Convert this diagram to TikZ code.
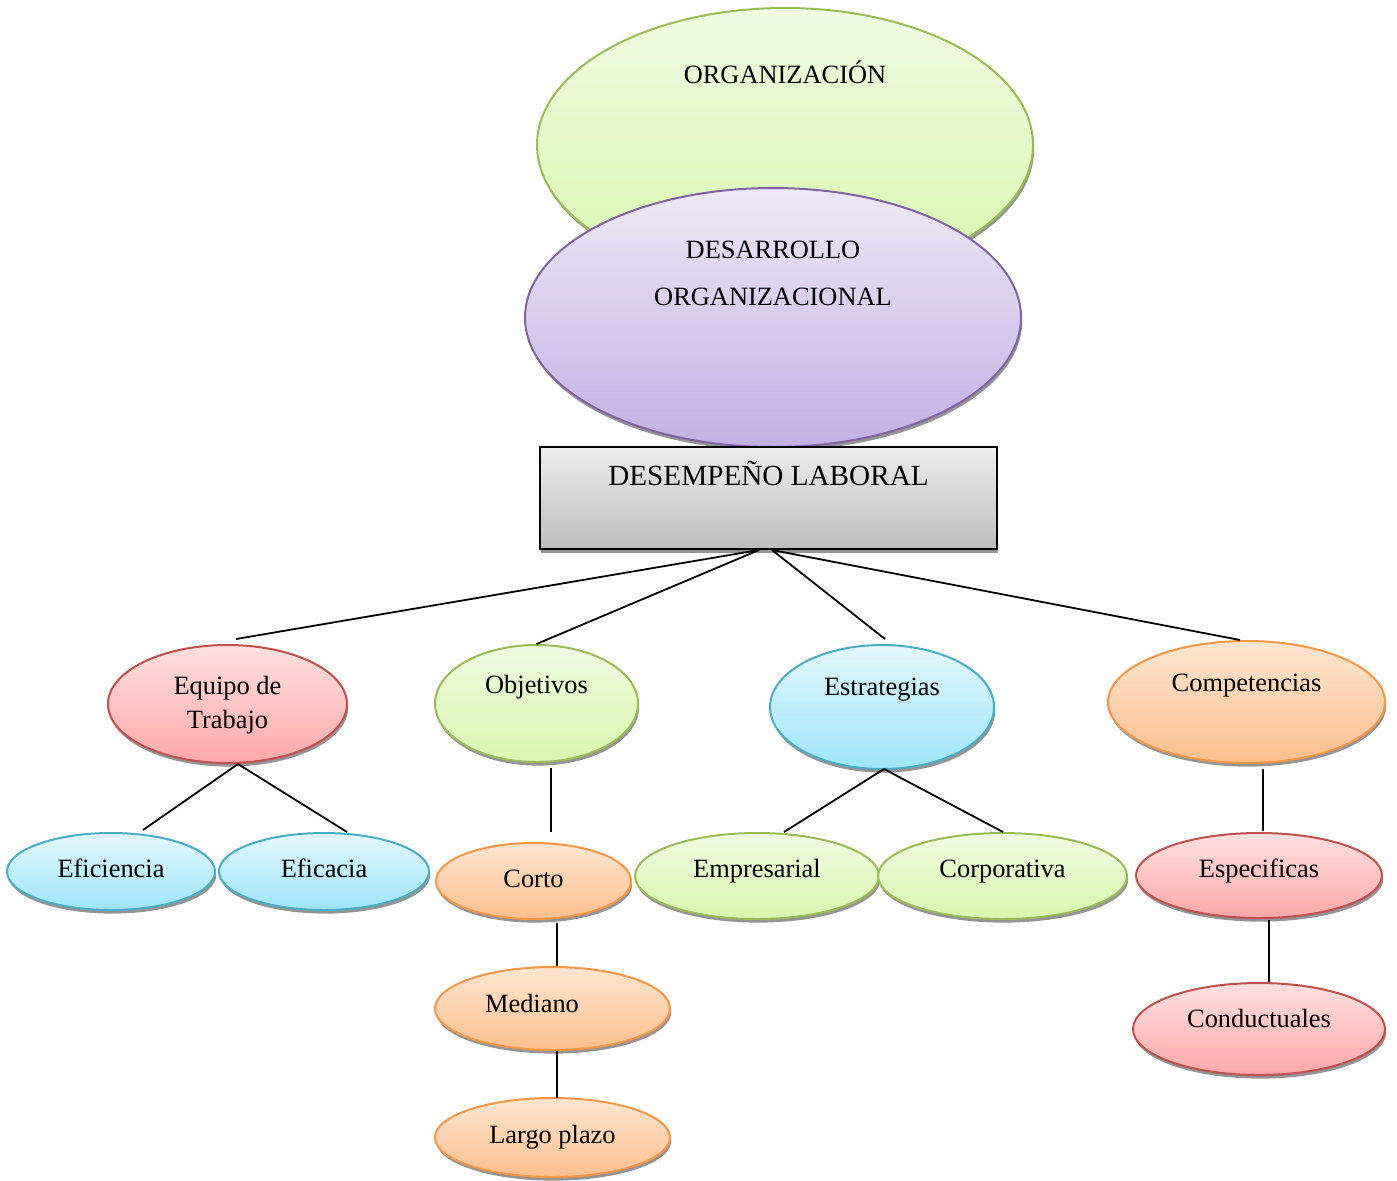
\documentclass[tikz,border=0pt]{standalone}
\usepackage{fontspec}
\setmainfont{Liberation Serif}
\usetikzlibrary{shapes.geometric,shadows,calc}

% palette
\definecolor{gtop}{HTML}{F0FBE2}\definecolor{gbot}{HTML}{D8F7AE}\definecolor{gline}{HTML}{9BBB59}
\definecolor{ptop}{HTML}{EFE8F8}\definecolor{pbot}{HTML}{C3B0E3}\definecolor{pline}{HTML}{8064A2}
\definecolor{rtop}{HTML}{FFE0E0}\definecolor{rbot}{HTML}{FFA8A8}\definecolor{rline}{HTML}{C0504D}
\definecolor{btop}{HTML}{E4F8FE}\definecolor{bbot}{HTML}{9EE5FA}\definecolor{bline}{HTML}{4BACC6}
\definecolor{otop}{HTML}{FEE6D2}\definecolor{obot}{HTML}{FCBF8C}\definecolor{oline}{HTML}{F79646}
\definecolor{ktop}{HTML}{EDEDED}\definecolor{kbot}{HTML}{BDBDBD}

\tikzset{
  bub/.style={ellipse, inner sep=0pt, line width=1pt,
    drop shadow={shadow xshift=0.6pt, shadow yshift=-1.8pt, fill=black!42, opacity=1}},
  greenbub/.style={bub, draw=gline, top color=gtop, bottom color=gbot},
  purplebub/.style={bub, draw=pline, top color=ptop, bottom color=pbot},
  redbub/.style={bub, draw=rline, top color=rtop, bottom color=rbot},
  bluebub/.style={bub, draw=bline, top color=btop, bottom color=bbot},
  orangebub/.style={bub, draw=oline, top color=otop, bottom color=obot},
  lbl/.style={anchor=base, inner sep=0pt, font=\fontsize{13.2}{15}\selectfont},
  conn/.style={line width=0.9pt, draw=black},
}

\begin{document}
\begin{tikzpicture}[x=0.5pt, y=-0.5pt]
  \path[fill=white, use as bounding box] (0,0) rectangle (1397,1180);

  % top of the hierarchy
  \node[greenbub, minimum width=248pt, minimum height=137pt] (org) at (785,145) {};
  \node[lbl] (org-t) at (785,83) {ORGANIZACIÓN};

  \node[purplebub, minimum width=248pt, minimum height=129.5pt] (dor) at (773,317.5) {};
  \node[lbl] (dor-t1) at (773,258) {DESARROLLO};
  \node[lbl] (dor-t2) at (773,305) {ORGANIZACIONAL};

  \node[rectangle, draw=black, line width=1pt, inner sep=0pt,
        minimum width=228.5pt, minimum height=51pt,
        top color=ktop, bottom color=kbot,
        drop shadow={shadow xshift=0.6pt, shadow yshift=-1.8pt, fill=black!42, opacity=1}]
        (dl) at (768.5,498) {};
  \node[lbl, font=\fontsize{14.6}{17}\selectfont] (dl-t) at (768.5,485) {DESEMPEÑO LABORAL};

  % second level
  \node[redbub, minimum width=119.5pt, minimum height=59pt] (eq) at (227.5,704) {};
  \node[lbl] (eq-t1) at (227.5,694) {Equipo de};
  \node[lbl] (eq-t2) at (227.5,728) {Trabajo};

  \node[greenbub, minimum width=101.5pt, minimum height=58.5pt] (ob) at (536.5,703.5) {};
  \node[lbl] (ob-t) at (536.5,693) {Objetivos};

  \node[bluebub, minimum width=112pt, minimum height=62pt] (es) at (882,707) {};
  \node[lbl] (es-t) at (882,695) {Estrategias};

  \node[orangebub, minimum width=138.5pt, minimum height=61pt] (co) at (1246.5,702) {};
  \node[lbl] (co-t) at (1246.5,691) {Competencias};

  % third level
  \node[bluebub, minimum width=104pt, minimum height=38.5pt] (efi) at (111,871.5) {};
  \node[lbl] (efi-t) at (111,877) {Eficiencia};
  \node[bluebub, minimum width=105pt, minimum height=38.5pt] (efa) at (324,871.5) {};
  \node[lbl] (efa-t) at (324,877) {Eficacia};

  \node[orangebub, minimum width=97.5pt, minimum height=38pt] (cor) at (533.5,881) {};
  \node[lbl] (cor-t) at (533.5,887) {Corto};
  \node[orangebub, minimum width=117.5pt, minimum height=41.5pt] (med) at (552.5,1008.5) {};
  \node[lbl] (med-t) at (532,1012) {Mediano};
  \node[orangebub, minimum width=117.5pt, minimum height=39.5pt] (lar) at (552.5,1137.5) {};
  \node[lbl] (lar-t) at (552.5,1143) {Largo plazo};

  \node[greenbub, minimum width=122pt, minimum height=43pt] (emp) at (757,876) {};
  \node[lbl] (emp-t) at (757,877) {Empresarial};
  \node[greenbub, minimum width=124.5pt, minimum height=43pt] (crp) at (1002.5,876) {};
  \node[lbl] (crp-t) at (1002.5,877) {Corporativa};

  \node[redbub, minimum width=123pt, minimum height=42.5pt] (esp) at (1259,875.5) {};
  \node[lbl] (esp-t) at (1259,877) {Especificas};
  \node[redbub, minimum width=126pt, minimum height=46pt] (cnd) at (1259,1029) {};
  \node[lbl] (cnd-t) at (1259,1027) {Conductuales};

  % connectors from the central box
  \draw[conn] ($(dl.south)+(-9.5,0)$) -- ($(eq.north)+(8.5,-5)$);
  \draw[conn] ($(dl.south)+(-9.5,0)$) -- (ob.north);
  \draw[conn] ($(dl.south)+(3.5,0)$) -- ($(es.north)+(3,-5)$);
  \draw[conn] ($(dl.south)+(3.5,0)$) -- ($(co.north)+(-6.5,0)$);

  % branches
  \draw[conn] ($(eq.south)+(10.5,0)$) -- ($(efi.north)+(32,-2)$);
  \draw[conn] ($(eq.south)+(10.5,0)$) -- ($(efa.north)+(23,0)$);

  \draw[conn] ($(ob.south)+(14.5,5)$) -- ($(cor.north)+(17.5,-10)$);
  \draw[conn] ($(cor.south)+(23.5,3)$) -- ($(med.north)+(4.5,0)$);
  \draw[conn] ($(med.south)+(4.5,0)$) -- ($(lar.north)+(4.5,1)$);

  \draw[conn] ($(es.south)+(2,-1)$) -- ($(emp.north)+(27,0)$);
  \draw[conn] ($(es.south)+(2,-1)$) -- ($(crp.north)+(0.5,0)$);

  \draw[conn] ($(co.south)+(16.5,5)$) -- ($(esp.north)+(4,-1)$);
  \draw[conn] ($(esp.south)+(10,1)$) -- ($(cnd.north)+(10,0)$);
\end{tikzpicture}
\end{document}
